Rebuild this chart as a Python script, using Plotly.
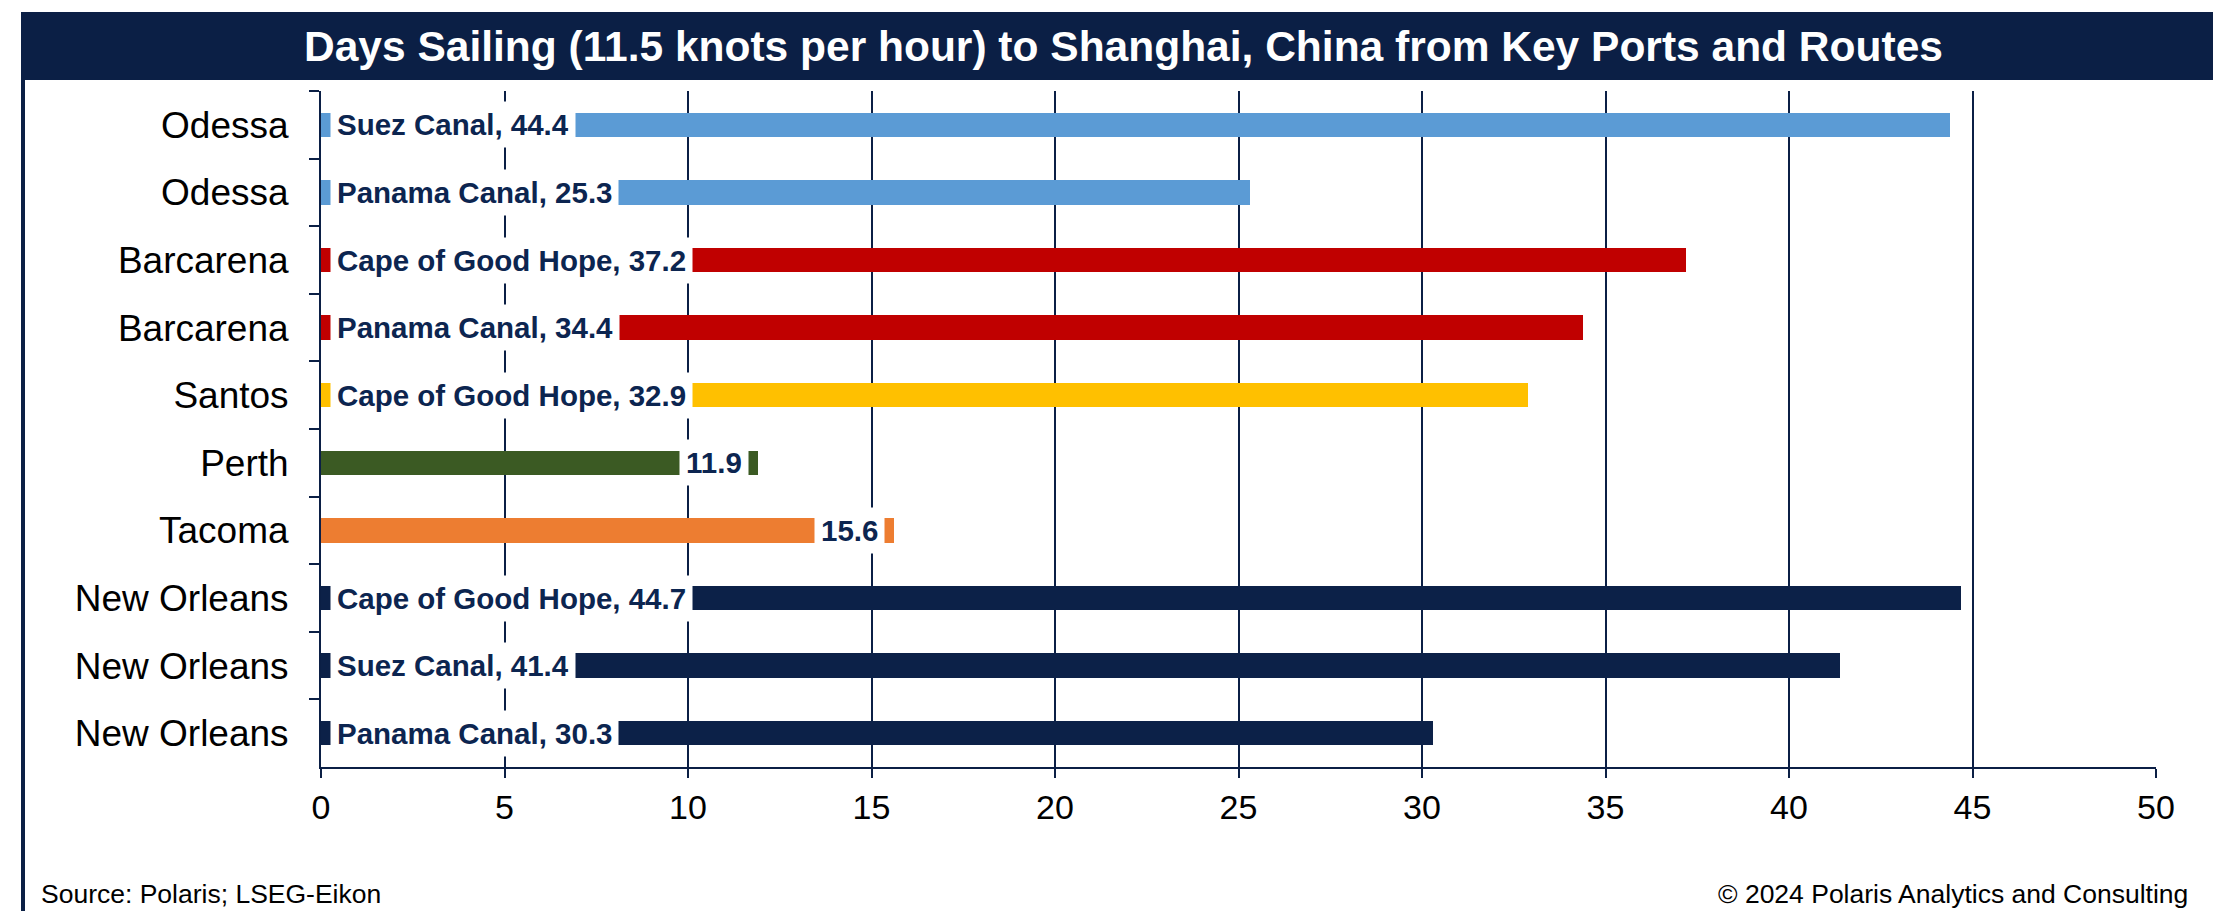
import plotly.graph_objects as go

ports = ["Odessa", "Odessa", "Barcarena", "Barcarena", "Santos", "Perth", "Tacoma",
         "New Orleans", "New Orleans", "New Orleans"]
routes = ["Suez Canal", "Panama Canal", "Cape of Good Hope", "Panama Canal", "Cape of Good Hope",
          "", "", "Cape of Good Hope", "Suez Canal", "Panama Canal"]
days = [44.4, 25.3, 37.2, 34.4, 32.9, 11.9, 15.6, 44.7, 41.4, 30.3]
bar_colors = ["#5b9bd5", "#5b9bd5", "#c00000", "#c00000", "#ffc000", "#3b5a23", "#ed7d31",
              "#0c2148", "#0c2148", "#0c2148"]
x_ticks = [0, 5, 10, 15, 20, 25, 30, 35, 40, 45, 50]

W, H = 2221, 911
L, R, T, B = 313, 2148, 83, 759
NAVY = "#0b1f45"
LABEL = "#0c2550"

def px(X):
    return (X - L) / (R - L)

def py(Y):
    return (B - Y) / (B - T)

idx = list(range(len(ports)))

fig = go.Figure()
fig.add_trace(go.Bar(
    x=days, y=idx, orientation="h", width=0.36,
    marker=dict(color=bar_colors, line=dict(width=0)),
    hoverinfo="x+y", showlegend=False,
))

lab_font = dict(family="Liberation Sans", size=29.5, color=LABEL)
annotations = []
for i, (r, d) in enumerate(zip(routes, days)):
    if r:
        annotations.append(dict(
            x=0, y=i, xref="x", yref="y", text=f"<b>{r}, {d}</b>", showarrow=False,
            xanchor="left", yanchor="middle", xshift=9, bgcolor="white", borderpad=6,
            height=33, font=lab_font,
        ))
    else:
        annotations.append(dict(
            x=d, y=i, xref="x", yref="y", text=f"<b>{d}</b>", showarrow=False,
            xanchor="right", yanchor="middle", xshift=-9, bgcolor="white", borderpad=6,
            height=33, font=lab_font,
        ))

annotations.append(dict(
    x=px(1115), y=py(39), xref="paper", yref="paper", showarrow=False,
    text="<b>Days Sailing (11.5 knots per hour) to Shanghai, China from Key Ports and Routes</b>",
    font=dict(family="Liberation Sans", size=42.5, color="white"), xanchor="center", yanchor="middle",
))
annotations.append(dict(
    x=px(31), y=py(886), xref="paper", yref="paper", showarrow=False,
    text="Source: Polaris; LSEG-Eikon", xanchor="left", yanchor="middle",
    font=dict(family="Liberation Sans", size=26.5, color="black"),
))
annotations.append(dict(
    x=px(2182), y=py(886), xref="paper", yref="paper", showarrow=False,
    text="© 2024 Polaris Analytics and Consulting", xanchor="right", yanchor="middle",
    font=dict(family="Liberation Sans", size=26.5, color="black"),
))

shapes = [
    dict(type="rect", xref="paper", yref="paper", x0=px(13), x1=px(2216), y0=py(4), y1=py(72),
         fillcolor=NAVY, line=dict(width=0), layer="above"),
    dict(type="rect", xref="paper", yref="paper", x0=px(15), x1=px(2214), y0=py(6), y1=py(915),
         fillcolor="rgba(0,0,0,0)", line=dict(color=NAVY, width=4), layer="above"),
]

boundaries = [i - 0.5 for i in range(len(ports))]

fig.update_layout(
    width=W, height=H,
    margin=dict(l=L, r=W - R, t=T, b=H - B),
    paper_bgcolor="white", plot_bgcolor="white",
    bargap=0,
    xaxis=dict(
        range=[0, 50], tickmode="array", tickvals=x_ticks,
        showgrid=True, gridcolor=NAVY, gridwidth=2, zeroline=False,
        showline=True, linecolor=NAVY, linewidth=2,
        ticks="outside", ticklen=9, tickwidth=2, tickcolor=NAVY,
        tickfont=dict(family="Liberation Sans", size=34, color="black"),
        fixedrange=True,
    ),
    yaxis=dict(
        range=[9.5, -0.5], tickmode="array", tickvals=idx, ticktext=ports,
        showgrid=False, zeroline=False, showline=True, linecolor=NAVY, linewidth=2,
        ticks="", ticklabelstandoff=23,
        minor=dict(tickmode="array", tickvals=boundaries, ticks="outside", ticklen=10,
                   tickwidth=2, tickcolor=NAVY, showgrid=False),
        tickfont=dict(family="Liberation Sans", size=37, color="black"),
        fixedrange=True,
    ),
    yaxis2=dict(
        overlaying="y", anchor="x", side="left", range=[9.5, -0.5],
        tickmode="array", tickvals=boundaries, ticks="inside", ticklen=10, tickwidth=2,
        tickcolor=NAVY, showticklabels=False, showgrid=False, zeroline=False, showline=False,
        fixedrange=True,
    ),
    annotations=annotations,
    shapes=shapes,
)

fig.write_html("out.html")
